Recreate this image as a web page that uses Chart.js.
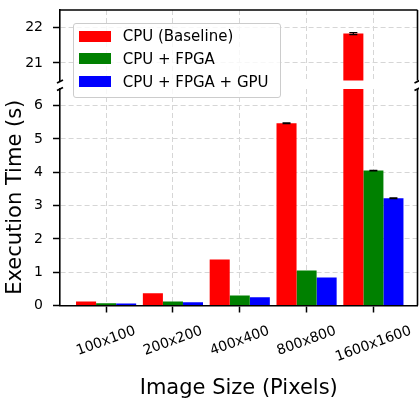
<!DOCTYPE html>
<html>
<head>
<meta charset="utf-8">
<script src="https://cdn.jsdelivr.net/npm/chart.js@4/dist/chart.umd.min.js"></script>
<style>
  html, body { margin: 0; padding: 0; background: #fff; }
  #wrap { position: relative; width: 419px; height: 399px; overflow: hidden; font-family: "DejaVu Sans", sans-serif; }
  canvas { position: absolute; left: 0; }
  #upper { top: 0; }
  #lower { top: 84px; }
  #legend {
    position: absolute; left: 72.5px; top: 22.5px; width: 208px; height: 75px;
    box-sizing: border-box; border: 1px solid #cccccc; border-radius: 3px;
    background: rgba(255, 255, 255, 0.8); font-size: 15px; color: #000;
  }
  #legend .item { position: absolute; left: 5.5px; height: 22.6px; display: flex; align-items: center; white-space: nowrap; }
  #legend .patch { width: 32px; height: 11px; margin-right: 11.7px; }
</style>
</head>
<body>
<div id="wrap">
  <canvas id="lower" width="419" height="320"></canvas>
  <canvas id="upper" width="419" height="90"></canvas>
  <div id="legend"></div>
</div>
<script>
// data
const sizes = ["100x100", "200x200", "400x400", "800x800", "1600x1600"];
const seriesNames = ["CPU (Baseline)", "CPU + FPGA", "CPU + FPGA + GPU"];
const seriesColors = ["#ff0000", "#008000", "#0000ff"];
const cpuTimes = [0.12, 0.37, 1.38, 5.47, 21.83];
const fpgaTimes = [0.07, 0.12, 0.30, 1.05, 4.05];
const gpuTimes = [0.06, 0.10, 0.25, 0.84, 3.22];
const cpuErr = [0, 0, 0, 0.01, 0.03];
const fpgaErr = [0, 0, 0, 0, 0.01];
const gpuErr = [0, 0, 0, 0, 0.01];
const lowerTicks = [0, 1, 2, 3, 4, 5, 6];
const upperTicks = [21, 22];
const lowerRange = [0, 6.5];
const upperRange = [20.5, 22.5];
const xTitle = "Image Size (Pixels)";
const yTitle = "Execution Time (s)";

Chart.defaults.font.family = '"DejaVu Sans", sans-serif';
Chart.defaults.color = "#000";

const GRID = "#d6d6d6";
const FONT = '"DejaVu Sans", sans-serif';

function makeDatasets() {
  const series = [cpuTimes, fpgaTimes, gpuTimes];
  const errs = [cpuErr, fpgaErr, gpuErr];
  return series.map((vals, s) => ({
    label: seriesNames[s],
    data: vals.map((v, i) => ({ x: i, y: v })),
    errors: errs[s],
    backgroundColor: seriesColors[s],
    borderWidth: 0,
    categoryPercentage: 0.9,
    barPercentage: 1.0
  }));
}

// error bars, spines, axis breaks and rotated category labels
const decor = {
  id: "decor",
  afterDatasetsDraw(chart) {
    const ctx = chart.ctx, area = chart.chartArea, ys = chart.scales.y;
    ctx.save();
    ctx.beginPath();
    ctx.rect(area.left, area.top - 2, area.right - area.left, area.bottom - area.top + 2);
    ctx.clip();
    ctx.strokeStyle = "#000";
    ctx.lineWidth = 1.2;
    chart.data.datasets.forEach((ds, d) => {
      chart.getDatasetMeta(d).data.forEach((bar, i) => {
        const e = ds.errors[i];
        if (!e) return;
        const v = ds.data[i].y;
        const y1 = ys.getPixelForValue(v - e), y2 = ys.getPixelForValue(v + e);
        ctx.beginPath();
        ctx.moveTo(bar.x, y1); ctx.lineTo(bar.x, y2);
        ctx.moveTo(bar.x - 4, y1); ctx.lineTo(bar.x + 4, y1);
        ctx.moveTo(bar.x - 4, y2); ctx.lineTo(bar.x + 4, y2);
        ctx.stroke();
      });
    });
    ctx.restore();
  },
  afterDraw(chart, args, opts) {
    const ctx = chart.ctx, a = chart.chartArea;
    ctx.save();
    ctx.strokeStyle = "#000";
    ctx.lineWidth = 1.6;
    ctx.beginPath();
    ctx.moveTo(a.right, a.top); ctx.lineTo(a.right, a.bottom);
    if (opts.part === "upper") {
      ctx.moveTo(a.left, a.top); ctx.lineTo(a.right, a.top);
    }
    ctx.stroke();

    // break marks
    const by = opts.part === "upper" ? a.bottom + 1 : a.top;
    ctx.lineWidth = 1.8;
    ctx.beginPath();
    [a.left, a.right].forEach(x => {
      ctx.moveTo(x - 3, by + 1.5); ctx.lineTo(x + 3, by - 1.5);
    });
    ctx.stroke();

    if (opts.part === "lower") {
      const xs = chart.scales.x;
      const rot = 20 * Math.PI / 180;
      ctx.font = "14px " + FONT;
      ctx.fillStyle = "#000";
      ctx.textAlign = "center";
      ctx.textBaseline = "middle";
      sizes.forEach((lab, i) => {
        const x = xs.getPixelForValue(i);
        const w = ctx.measureText(lab).width;
        const h = w * Math.sin(rot) + 16 * Math.cos(rot);
        const cy = a.bottom + 17.5 + h / 2;
        ctx.save();
        ctx.translate(x, cy);
        ctx.rotate(-rot);
        ctx.fillText(lab, 0, 0);
        ctx.restore();
      });
    }
    ctx.restore();
  }
};

function yScale(range, ticks, title) {
  return {
    type: "linear",
    min: range[0],
    max: range[1],
    afterBuildTicks: s => { s.ticks = ticks.map(v => ({ value: v })); },
    afterFit: s => { s.width = 60; s.paddingTop = 0; s.paddingBottom = 0; },
    ticks: { color: "#000", font: { size: 14 }, padding: 10 },
    grid: { color: GRID, lineWidth: 1, tickLength: 7, tickColor: "#000", tickWidth: 1.5, tickBorderDash: [] },
    border: { display: true, color: "#000", width: 1.6, dash: [5, 3] },
    title: title
      ? { display: true, text: title, color: "#000", font: { size: 21 }, padding: { top: 3, bottom: 0 } }
      : { display: false }
  };
}

function xScale(part) {
  const lower = part === "lower";
  return {
    type: "linear",
    min: -0.69,
    max: 4.66,
    offset: false,
    afterBuildTicks: s => { s.ticks = sizes.map((_, i) => ({ value: i })); },
    afterFit: s => { s.height = lower ? 98.5 : 0; s.paddingLeft = 0; s.paddingRight = 0; },
    ticks: { display: false },
    grid: {
      offset: false, color: GRID, lineWidth: 1, drawTicks: lower,
      tickLength: 7, tickColor: "#000", tickWidth: 1.5, tickBorderDash: []
    },
    border: { display: lower, color: "#000", width: 1.6, dash: [5, 3] },
    title: lower
      ? { display: true, text: xTitle, color: "#000", font: { size: 21 }, padding: { top: 0, bottom: 3 } }
      : { display: false }
  };
}

function makeChart(id, part, range, ticks, title, padding) {
  return new Chart(document.getElementById(id).getContext("2d"), {
    type: "bar",
    data: { datasets: makeDatasets() },
    options: {
      responsive: false,
      animation: false,
      events: [],
      devicePixelRatio: 1,
      layout: { padding: padding },
      plugins: { legend: { display: false }, tooltip: { enabled: false }, decor: { part: part } },
      scales: { x: xScale(part), y: yScale(range, ticks, title) }
    },
    plugins: [decor]
  });
}

makeChart("upper", "upper", upperRange, upperTicks, null, { left: 0, right: 1.5, top: 10, bottom: 9.5 });
makeChart("lower", "lower", lowerRange, lowerTicks, yTitle, { left: 0, right: 1.5, top: 5, bottom: 0 });

// legend (drawn over both panels)
const legend = document.getElementById("legend");
seriesNames.forEach((name, s) => {
  const row = document.createElement("div");
  row.className = "item";
  row.style.top = (1.5 + s * 22.65) + "px";
  const patch = document.createElement("span");
  patch.className = "patch";
  patch.style.background = seriesColors[s];
  row.appendChild(patch);
  row.appendChild(document.createTextNode(name));
  legend.appendChild(row);
});
</script>
</body>
</html>
